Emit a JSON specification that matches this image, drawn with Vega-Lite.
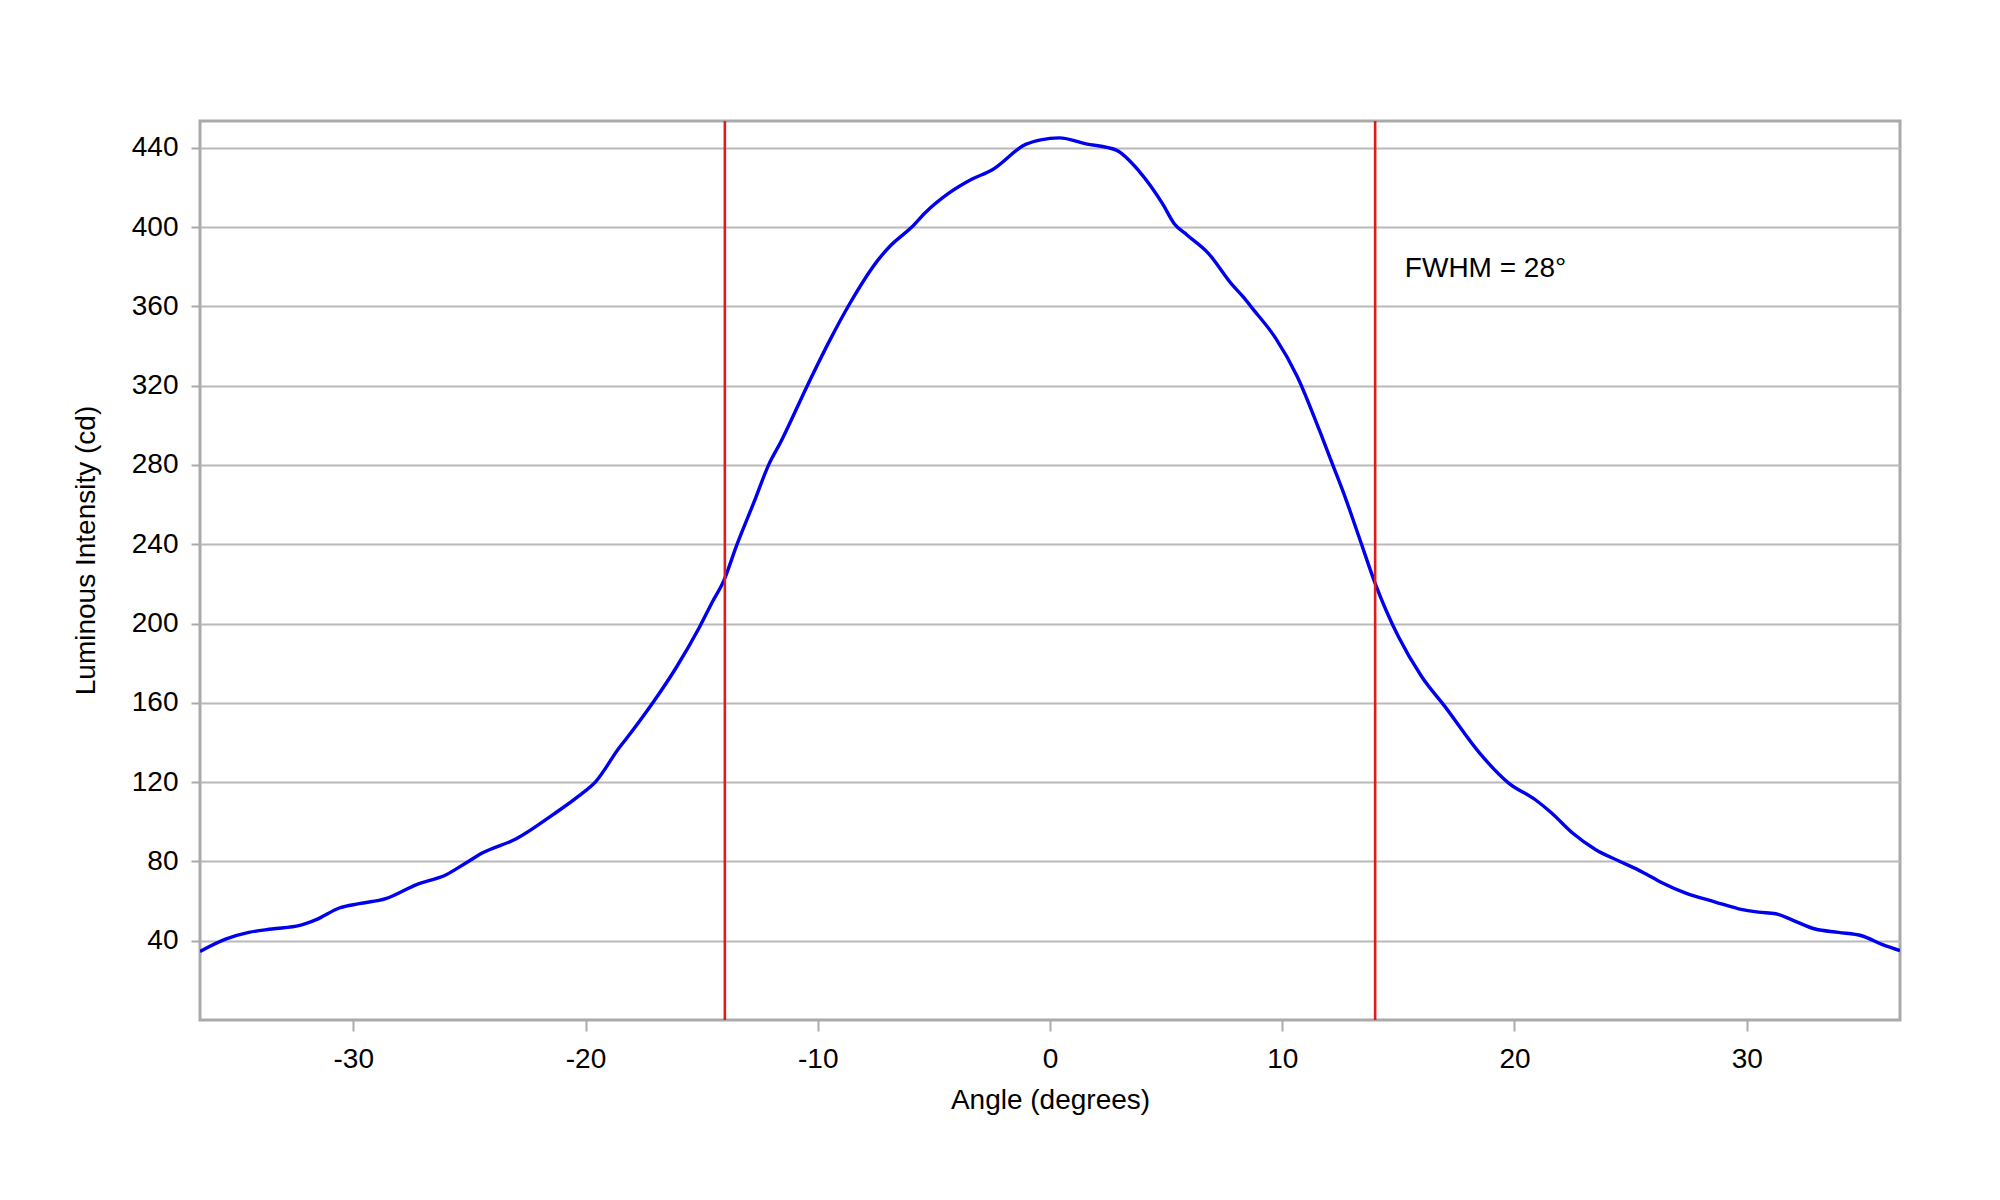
{
  "$schema": "https://vega.github.io/schema/vega-lite/v6.json",
  "width": 1700,
  "height": 899,
  "autosize": "none",
  "padding": {"left": 200, "top": 121, "right": 100, "bottom": 180},
  "background": "white",
  "config": {
    "font": "Liberation Sans",
    "view": {"stroke": "#aaaaaa", "strokeWidth": 3},
    "axis": {
      "labelFont": "Liberation Sans",
      "titleFont": "Liberation Sans",
      "labelFontSize": 28,
      "titleFontSize": 28,
      "labelColor": "#000000",
      "titleColor": "#000000",
      "titleFontWeight": "normal",
      "domain": false,
      "tickColor": "#aaaaaa",
      "tickWidth": 2,
      "gridColor": "#b9b9b9",
      "gridWidth": 2,
      "labelExpr": "'' + datum.value"
    }
  },
  "datasets": {
    "profile": [
      {"angle": -36.6, "intensity": 34.6},
      {"angle": -35.5, "intensity": 40.8},
      {"angle": -34.5, "intensity": 44.2},
      {"angle": -33.5, "intensity": 45.9},
      {"angle": -32.3, "intensity": 47.7},
      {"angle": -31.6, "intensity": 50.6},
      {"angle": -30.6, "intensity": 56.5},
      {"angle": -29.75, "intensity": 58.7},
      {"angle": -28.6, "intensity": 61.2},
      {"angle": -27.3, "intensity": 68.2},
      {"angle": -26.0, "intensity": 73.3},
      {"angle": -25.15, "intensity": 79.2},
      {"angle": -24.45, "intensity": 84.2},
      {"angle": -23.0, "intensity": 91.3},
      {"angle": -21.4, "intensity": 103.6},
      {"angle": -20.3, "intensity": 112.9},
      {"angle": -19.55, "intensity": 120.4},
      {"angle": -18.55, "intensity": 137.3},
      {"angle": -18.27, "intensity": 141.5},
      {"angle": -17.05, "intensity": 160.9},
      {"angle": -16.1, "intensity": 177.7},
      {"angle": -15.1, "intensity": 198},
      {"angle": -14.55, "intensity": 210.6},
      {"angle": -14.05, "intensity": 221.5},
      {"angle": -13.5, "intensity": 239.2},
      {"angle": -12.75, "intensity": 261.1},
      {"angle": -12.1, "intensity": 280.4},
      {"angle": -11.6, "intensity": 291.4},
      {"angle": -10.45, "intensity": 320},
      {"angle": -9.45, "intensity": 343.6},
      {"angle": -8.65, "intensity": 360.8},
      {"angle": -7.35, "intensity": 384.2},
      {"angle": -6.85, "intensity": 390.8},
      {"angle": -5.95, "intensity": 400},
      {"angle": -5.35, "intensity": 407.5},
      {"angle": -4.4, "intensity": 416.7},
      {"angle": -3.35, "intensity": 424.2},
      {"angle": -2.5, "intensity": 428.8},
      {"angle": -1.05, "intensity": 441.7},
      {"angle": -0.4, "intensity": 444},
      {"angle": 0.4, "intensity": 445},
      {"angle": 1.55, "intensity": 442},
      {"angle": 2.85, "intensity": 438.8},
      {"angle": 3.85, "intensity": 428},
      {"angle": 4.85, "intensity": 411.7},
      {"angle": 5.35, "intensity": 401.7},
      {"angle": 5.9, "intensity": 396},
      {"angle": 6.8, "intensity": 387},
      {"angle": 7.85, "intensity": 370.8},
      {"angle": 8.3, "intensity": 365},
      {"angle": 8.75, "intensity": 358.5},
      {"angle": 9.7, "intensity": 344.2},
      {"angle": 10.65, "intensity": 324.5},
      {"angle": 11.6, "intensity": 297.5},
      {"angle": 12.15, "intensity": 280.8},
      {"angle": 12.75, "intensity": 262.4},
      {"angle": 13.3, "intensity": 243.9},
      {"angle": 14.0, "intensity": 220.3},
      {"angle": 15.0, "intensity": 193.4},
      {"angle": 16.0, "intensity": 173.3},
      {"angle": 17.0, "intensity": 158.2},
      {"angle": 18.5, "intensity": 134.6},
      {"angle": 19.75, "intensity": 119.5},
      {"angle": 20.9, "intensity": 111.1},
      {"angle": 21.6, "intensity": 104.4},
      {"angle": 22.5, "intensity": 94.3},
      {"angle": 23.5, "intensity": 85.9},
      {"angle": 24.5, "intensity": 80.2},
      {"angle": 25.5, "intensity": 74.7},
      {"angle": 26.35, "intensity": 69.2},
      {"angle": 27.35, "intensity": 64.1},
      {"angle": 28.65, "intensity": 59.5},
      {"angle": 29.65, "intensity": 56.1},
      {"angle": 30.5, "intensity": 54.4},
      {"angle": 31.25, "intensity": 53.6},
      {"angle": 31.95, "intensity": 50.5},
      {"angle": 32.95, "intensity": 45.9},
      {"angle": 33.95, "intensity": 44.2},
      {"angle": 34.95, "intensity": 42.5},
      {"angle": 35.85, "intensity": 38},
      {"angle": 36.6, "intensity": 35}
    ],
    "limits": [
      {"angle": -14},
      {"angle": 14}
    ],
    "notes": [
      {"angle": 15.28, "intensity": 378.8, "label": "FWHM = 28°"}
    ]
  },
  "layer": [
    {
      "data": {"name": "profile"},
      "mark": {"type": "line", "color": "#0000ee", "strokeWidth": 3.4, "interpolate": "monotone", "strokeJoin": "round", "clip": true},
      "encoding": {
        "x": {
          "field": "angle",
          "type": "quantitative",
          "title": "Angle (degrees)",
          "scale": {"domain": [-36.6, 36.6], "nice": false, "zero": false},
          "axis": {
            "values": [-30, -20, -10, 0, 10, 20, 30],
            "grid": false,
            "tickSize": 11,
            "labelPadding": 14,
            "titlePadding": 13
          }
        },
        "y": {
          "field": "intensity",
          "type": "quantitative",
          "title": "Luminous Intensity (cd)",
          "scale": {"domain": [0, 453.5], "nice": false},
          "axis": {
            "values": [40, 80, 120, 160, 200, 240, 280, 320, 360, 400, 440],
            "tickSize": 9,
            "labelPadding": 13,
            "titlePadding": 31,
            "titleY": 429
          }
        }
      }
    },
    {
      "data": {"name": "limits"},
      "mark": {"type": "rule", "color": "#e01b1b", "strokeWidth": 2.6},
      "encoding": {
        "x": {"field": "angle", "type": "quantitative"}
      }
    },
    {
      "data": {"name": "notes"},
      "mark": {"type": "text", "align": "left", "baseline": "middle", "fontSize": 28, "font": "Liberation Sans", "color": "#000000"},
      "encoding": {
        "x": {"field": "angle", "type": "quantitative"},
        "y": {"field": "intensity", "type": "quantitative"},
        "text": {"field": "label"}
      }
    }
  ]
}
